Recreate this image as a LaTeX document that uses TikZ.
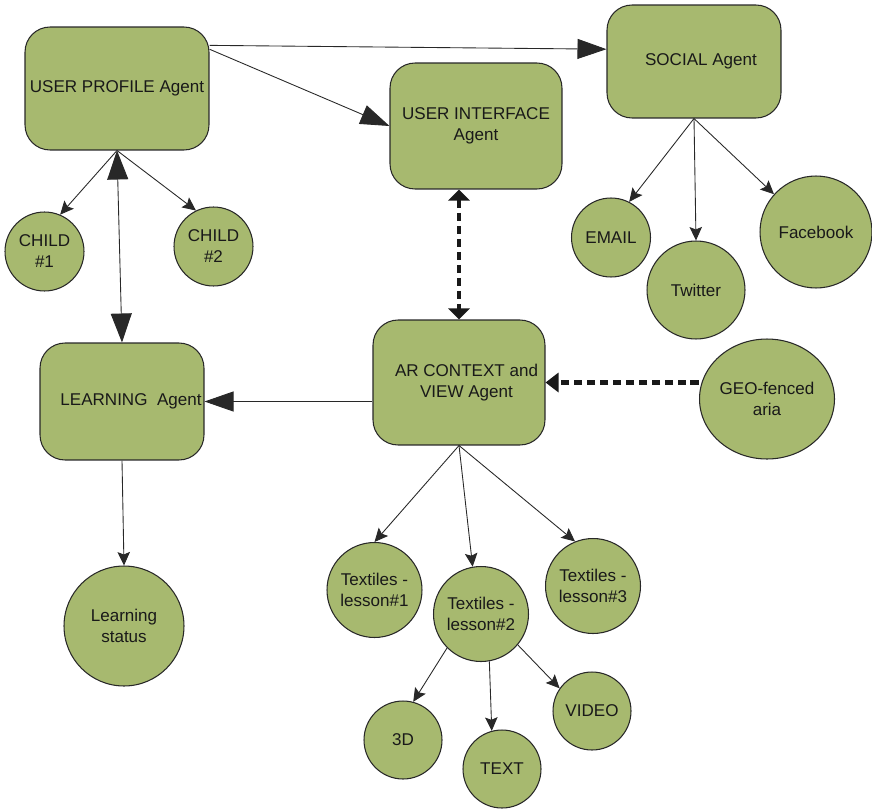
\documentclass[tikz,border=0pt]{standalone}
\usepackage{fontspec}
\setmainfont{Liberation Sans}
\usetikzlibrary{arrows.meta,shapes.geometric}
\definecolor{agentgreen}{RGB}{167,185,111}
\definecolor{linegray}{RGB}{40,40,40}
\tikzset{
    agent/.style={draw=linegray, fill=agentgreen, rounded corners=0.5cm, inner sep=0pt, align=center, line width=0.6pt},
    item/.style={draw=linegray, fill=agentgreen, circle, inner sep=0pt, align=center, line width=0.6pt},
    small/.style={draw=linegray, line width=0.5pt, -{Stealth[length=0.27cm,width=0.25cm,inset=0.05cm]}},
    big/.style={draw=linegray, line width=0.5pt, -{Triangle[length=0.58cm,width=0.4cm]}},
    bigboth/.style={draw=linegray, line width=0.5pt, {Triangle[length=0.58cm,width=0.42cm]}-{Triangle[length=0.58cm,width=0.42cm]}},
    dashlink/.style={draw=black!90, line width=2.3pt, dash pattern=on 0.17cm off 0.09cm},
}

\begin{document}
\begin{tikzpicture}[x=0.02cm, y=-0.02cm, font=\fontsize{9.7}{12}\selectfont, text=black!90]
        \useasboundingbox (0,0) rectangle (872,808);
        %draw agents
        \node[agent, minimum width=3.68cm, minimum height=2.46cm] (up) at (117,88.5) {USER PROFILE Agent};
        \node[agent, minimum width=3.44cm, minimum height=2.52cm] (ui) at (476,126) {USER INTERFACE\\Agent};
        \node[agent, minimum width=3.48cm, minimum height=2.26cm] (social) at (694,61.5) {\hspace*{0.28cm}SOCIAL Agent};
        \node[agent, minimum width=3.28cm, minimum height=2.34cm] (learn) at (122,401.5) {\hspace*{0.36cm}LEARNING\ \ Agent};
        \node[agent, minimum width=3.44cm, minimum height=2.5cm] (ar) at (459,382.5) {\hspace*{0.3cm}AR CONTEXT and\\\hspace*{0.3cm}VIEW Agent};
        %draw items
        \node[item, minimum size=1.58cm] (child1) at (44.5,251.5) {CHILD\\\#1};
        \node[item, minimum size=1.58cm] (child2) at (213.5,246.5) {CHILD\\\#2};
        \node[item, minimum size=1.58cm] (email) at (611,237.5) {EMAIL};
        \node[item, minimum size=1.96cm] (twitter) at (696,290) {Twitter};
        \node[item, minimum size=2.24cm] (facebook) at (816,232) {Facebook};
        \node[item, ellipse, minimum width=2.7cm, minimum height=2.4cm] (geo) at (767,399) {GEO-fenced\\aria};
        \node[item, minimum size=2.4cm] (status) at (124,626) {Learning\\status};
        \node[item, minimum size=1.9cm] (lesson1) at (374.5,590) {Textiles -\\lesson\#1};
        \node[item, minimum size=1.9cm] (lesson2) at (481,614) {Textiles -\\lesson\#2};
        \node[item, minimum size=1.9cm] (lesson3) at (593,586) {Textiles -\\lesson\#3};
        \node[item, minimum size=1.56cm] (d3) at (403,740) {3D};
        \node[item, minimum size=1.56cm] (text) at (502,769) {TEXT};
        \node[item, minimum size=1.56cm] (video) at (592,711) {VIDEO};
        %draw agent links
        \draw[big] (up.25) -- (social.172);
        \draw[big] (up.23) -- (ui.west);
        \draw[bigboth] (up.south) -- (learn.north);
        \draw[big] (ar.west |- learn.east) -- (learn.east);
        \draw[dashlink, {Triangle[length=0.22cm,width=0.42cm]}-{Triangle[length=0.22cm,width=0.42cm]}] (ui.south -| ar.north) -- (ar.north);
        \draw[dashlink, -{Triangle[length=0.26cm,width=0.38cm]}] (geo.west |- ar.east) -- (ar.east);
        %draw item links
        \draw[small] (up.south) -- (child1.67);
        \draw[small] (up.south) -- (child2.116);
        \draw[small] (social.south) -- (email.63);
        \draw[small] (social.south) -- (twitter.north);
        \draw[small] (social.south) -- (facebook.138);
        \draw[small] (learn.south) -- (status.north);
        \draw[small] (ar.south) -- (lesson1.north);
        \draw[small] (ar.south) -- (lesson2.100);
        \draw[small] (ar.south) -- (lesson3.112);
        \draw[small] (lesson2.225) -- (d3.75);
        \draw[small] (lesson2.280) -- (text.105);
        \draw[small] (lesson2.320) -- (video.145);
    \end{tikzpicture}
\end{document}
